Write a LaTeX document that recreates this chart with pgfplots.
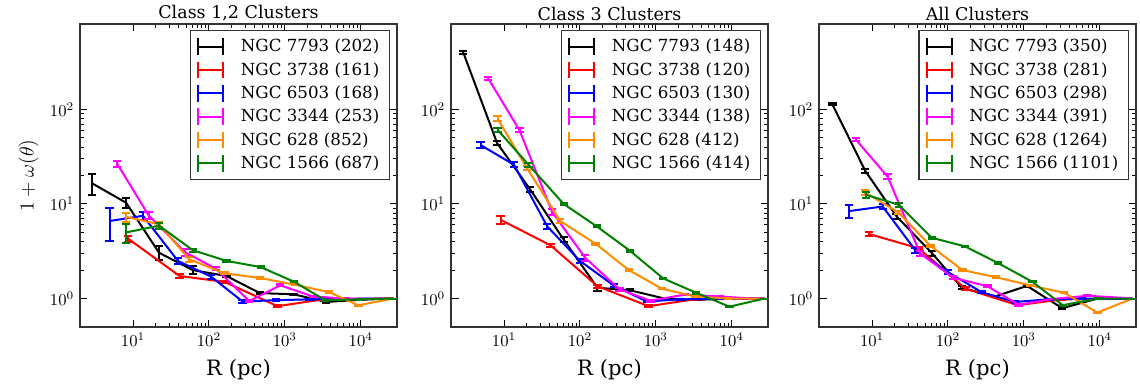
\documentclass[border=0pt]{standalone}
\usepackage{fontspec}
\setmainfont{DejaVu Serif}
\usepackage{pgfplots}
\pgfplotsset{compat=1.18}

\definecolor{mplorange}{RGB}{255,140,0}
\definecolor{mplgreen}{RGB}{0,128,0}
\definecolor{mplmagenta}{RGB}{255,0,255}

% common look of the three panels
\pgfplotsset{
  every axis/.append style={
    scale only axis, width=190.2pt, height=181.8pt,
    xmode=log, ymode=log,
    xmin=2, xmax=30000, ymin=0.5, ymax=800,
    xtick={10,100,1000,10000}, ytick={1,10,100},
    tick align=inside, major tick length=4.5pt, minor tick length=2.5pt,
    axis line style={line width=0.8pt, draw=black!80},
    tick style={black, line width=0.6pt},
    tick label style={font=\fontsize{10}{12}\selectfont},
    xlabel={R (pc)},
    xlabel style={font=\fontsize{12.7}{14}\selectfont, yshift=-1pt},
    title style={font=\fontsize{10.5}{12}\selectfont, yshift=-7.5pt},
    legend style={at={(0.978,0.98)}, anchor=north east,
      draw=black!80, line width=0.8pt, fill=white,
      font=\fontsize{10}{12}\selectfont,
      row sep=0.9pt, inner xsep=4pt, inner ysep=3pt,
      /tikz/every odd column/.append style={column sep=8pt}},
    legend cell align=left,
  },
  % errorbar-style legend symbol: a line with end caps
  legend image code/.code={
    \draw[#1,line width=1.2pt] (0pt,0pt) -- (15pt,0pt);
    \draw[#1,line width=1.2pt] (0pt,-5pt) -- (0pt,5pt);
    \draw[#1,line width=1.2pt] (15pt,-5pt) -- (15pt,5pt);
  },
  ebar/.style={line width=1.2pt, mark=none,
    error bars/.cd, y dir=both, y explicit,
    error bar style={line width=1.2pt},
    error mark options={rotate=90, mark size=2.5pt, line width=1.2pt}},
}

\begin{document}
\begin{tikzpicture}
\useasboundingbox (0,0) rectangle (684pt,231.6pt);

% ---------------- Class 1,2 ----------------
\begin{axis}[at={(48pt,35.4pt)}, anchor=south west,
  title={Class 1,2 Clusters},
  ylabel={$1+\omega(\theta)$},
  ylabel style={font=\fontsize{12.7}{14}\selectfont}]
\addplot[black, ebar] table[row sep=\\, y error index=2] {
2.9 16.5 4.0\\ 8.1 10.3 1.2\\ 22 3.05 0.5\\ 61 2.0 0.2\\ 170 1.73 0.05\\
470 1.14 0.03\\ 1300 1.11 0.02\\ 3500 0.92 0.02\\ 9800 0.97 0.01\\ 27000 1.0 0\\};
\addlegendentry{NGC 7793 (202)}
\addplot[red, ebar] table[row sep=\\, y error index=2] {
8.6 4.3 0.3\\ 41 1.73 0.08\\ 160 1.5 0.04\\ 800 0.83 0.02\\ 3200 0.98 0.01\\ 27000 1.0 0\\};
\addlegendentry{NGC 3738 (161)}
\addplot[blue, ebar] table[row sep=\\, y error index=2] {
4.9 6.6 2.5\\ 13.5 7.5 0.8\\ 39 2.5 0.2\\ 107 1.7 0.08\\ 277 0.93 0.03\\
760 0.96 0.02\\ 2100 0.98 0.01\\ 5800 0.99 0.01\\ 16000 1.0 0\\ 27000 1.0 0\\};
\addlegendentry{NGC 6503 (168)}
\addplot[mplmagenta, ebar] table[row sep=\\, y error index=2] {
6.2 26.5 2.0\\ 16 7.6 0.6\\ 48 3.1 0.25\\ 123 2.07 0.08\\ 340 0.94 0.03\\
870 1.38 0.03\\ 2350 1.05 0.01\\ 6300 1.0 0.01\\ 17000 1.0 0\\ 27000 1.0 0\\};
\addlegendentry{NGC 3344 (253)}
\addplot[mplorange, ebar] table[row sep=\\, y error index=2] {
8.1 7.3 0.8\\ 22 6.1 0.4\\ 55 2.6 0.15\\ 160 1.85 0.05\\ 470 1.65 0.04\\
1350 1.4 0.02\\ 3800 1.17 0.02\\ 9300 0.85 0.01\\ 27000 1.0 0\\};
\addlegendentry{NGC 628 (852)}
\addplot[mplgreen, ebar] table[row sep=\\, y error index=2] {
8.1 5.0 1.1\\ 22 5.9 0.4\\ 61 3.25 0.12\\ 170 2.5 0.05\\ 480 2.15 0.04\\
1330 1.5 0.02\\ 3400 0.96 0.01\\ 9500 0.98 0.01\\ 27000 1.0 0\\};
\addlegendentry{NGC 1566 (687)}
\end{axis}

% ---------------- Class 3 ----------------
\begin{axis}[at={(270.6pt,35.4pt)}, anchor=south west,
  title={Class 3 Clusters}]
\addplot[black, ebar] table[row sep=\\, y error index=2] {
2.9 400 10\\ 8.1 44 2\\ 22 14.3 0.8\\ 61 4.2 0.25\\ 170 1.3 0.1\\
460 1.22 0.03\\ 1300 1.0 0.02\\ 3500 0.97 0.01\\ 9800 1.0 0.01\\ 27000 1.0 0\\};
\addlegendentry{NGC 7793 (148)}
\addplot[red, ebar] table[row sep=\\, y error index=2] {
9.0 6.8 0.6\\ 41 3.65 0.15\\ 170 1.35 0.05\\ 800 0.83 0.02\\ 3200 0.98 0.01\\ 27000 1.0 0\\};
\addlegendentry{NGC 3738 (120)}
\addplot[blue, ebar] table[row sep=\\, y error index=2] {
4.9 42 3\\ 13.5 26 1.5\\ 37 5.8 0.4\\ 100 2.5 0.15\\ 280 1.37 0.05\\
760 0.93 0.02\\ 2100 0.98 0.01\\ 5800 0.99 0.01\\ 16000 1.0 0\\ 27000 1.0 0\\};
\addlegendentry{NGC 6503 (130)}
\addplot[mplmagenta, ebar] table[row sep=\\, y error index=2] {
6.2 212 8\\ 16 60 3\\ 43 8.2 0.6\\ 117 2.7 0.2\\ 330 1.25 0.05\\
850 0.95 0.02\\ 2400 1.1 0.02\\ 7000 1.05 0.01\\ 19000 1.0 0\\ 27000 1.0 0\\};
\addlegendentry{NGC 3344 (138)}
\addplot[mplorange, ebar] table[row sep=\\, y error index=2] {
8.2 80 5\\ 20 24 1.2\\ 55 6.6 0.3\\ 160 3.8 0.1\\ 440 2.0 0.05\\
1200 1.27 0.02\\ 3300 1.05 0.01\\ 9000 1.0 0.01\\ 27000 1.0 0\\};
\addlegendentry{NGC 628 (412)}
\addplot[mplgreen, ebar] table[row sep=\\, y error index=2] {
8.2 61 3\\ 21 26 1.2\\ 61 10 0.3\\ 166 5.8 0.12\\ 455 3.2 0.06\\
1250 1.63 0.03\\ 3400 1.15 0.02\\ 9300 0.82 0.01\\ 27000 1.0 0\\};
\addlegendentry{NGC 1566 (414)}
\end{axis}

% ---------------- All ----------------
\begin{axis}[at={(491.4pt,35.4pt)}, anchor=south west,
  title={All Clusters}]
\addplot[black, ebar] table[row sep=\\, y error index=2] {
3.0 113 3\\ 8.1 22.5 1.2\\ 21 7.4 0.4\\ 62 3.0 0.15\\ 152 1.3 0.05\\
415 1.05 0.02\\ 1100 1.36 0.02\\ 3200 0.79 0.02\\ 9400 1.0 0.01\\ 27000 1.0 0\\};
\addlegendentry{NGC 7793 (350)}
\addplot[red, ebar] table[row sep=\\, y error index=2] {
9.2 4.8 0.25\\ 41 3.4 0.1\\ 170 1.27 0.04\\ 830 0.85 0.02\\ 3200 0.98 0.01\\ 27000 1.0 0\\};
\addlegendentry{NGC 3738 (281)}
\addplot[blue, ebar] table[row sep=\\, y error index=2] {
4.95 8.4 1.3\\ 13.8 9.4 0.6\\ 37 3.25 0.2\\ 100 1.9 0.08\\ 276 1.17 0.03\\
760 0.92 0.02\\ 2100 0.98 0.01\\ 5800 1.0 0.01\\ 16000 1.0 0\\ 27000 1.0 0\\};
\addlegendentry{NGC 6503 (298)}
\addplot[mplmagenta, ebar] table[row sep=\\, y error index=2] {
6.1 48 2\\ 16 19.5 1\\ 43 3.0 0.2\\ 117 1.66 0.06\\ 330 1.35 0.04\\
850 0.86 0.02\\ 2400 0.99 0.01\\ 6900 1.07 0.01\\ 19000 1.02 0\\ 27000 1.0 0\\};
\addlegendentry{NGC 3344 (391)}
\addplot[mplorange, ebar] table[row sep=\\, y error index=2] {
8.0 13.3 0.8\\ 22 8.2 0.3\\ 59 3.6 0.12\\ 155 2.0 0.05\\ 430 1.68 0.03\\
1200 1.38 0.02\\ 3400 1.15 0.01\\ 9300 0.71 0.01\\ 27000 1.0 0\\};
\addlegendentry{NGC 628 (1264)}
\addplot[mplgreen, ebar] table[row sep=\\, y error index=2] {
8.3 12.5 0.8\\ 22.5 9.8 0.4\\ 61 4.4 0.12\\ 169 3.55 0.06\\ 457 2.37 0.04\\
1300 1.5 0.02\\ 3250 0.85 0.01\\ 9400 1.0 0.01\\ 27000 1.0 0\\};
\addlegendentry{NGC 1566 (1101)}
\end{axis}
\end{tikzpicture}
\end{document}
